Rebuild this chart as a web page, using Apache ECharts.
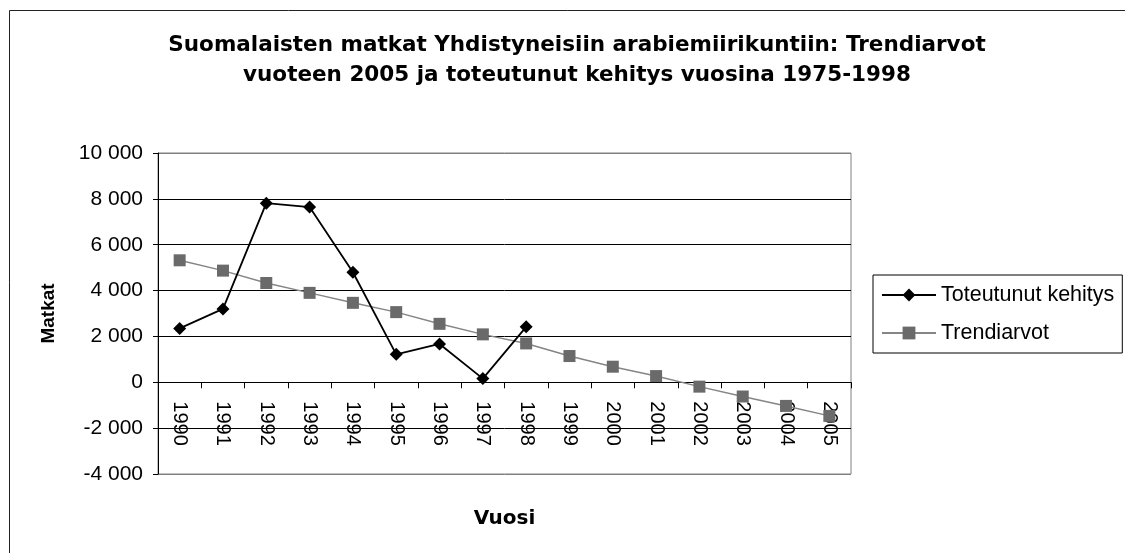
<!DOCTYPE html>
<html>
<head>
<meta charset="utf-8">
<title>Suomalaisten matkat</title>
<script src="https://cdn.jsdelivr.net/npm/echarts@6/dist/echarts.min.js"></script>
<style>
  html, body { margin: 0; padding: 0; background: #fff; }
  #chart { width: 1125px; height: 553px; }
</style>
</head>
<body>
<div id="chart"></div>
<script>
var vuodet = ["1990", "1991", "1992", "1993", "1994", "1995", "1996", "1997",
  "1998", "1999", "2000", "2001", "2002", "2003", "2004", "2005"];
// toteutunut kehitys 1990-1998
var toteutunut = [2350, 3200, 7810, 7640, 4800, 1220, 1670, 160, 2420];
// trendiarvot 1990-2005
var trendi = [5320, 4870, 4330, 3900, 3465, 3060, 2550, 2090, 1695, 1145,
  680, 270, -190, -620, -1030, -1465];
var yMin = -4000;
var yMax = 10000;
var yStep = 2000;

var font = "Liberation Sans, Arial, sans-serif";
var wideBold = "DejaVu Sans, Liberation Sans, sans-serif";

// grid box (px)
var gridTop = 153;
var gridBottom = 79;
var plotH = 553 - gridTop - gridBottom;
// x axis sits on the zero line; move it up from the bottom edge
var zeroOffset = -(plotH * (0 - yMin)) / (yMax - yMin);

function fmtNum(v) {
  var s = String(Math.abs(v)).replace(/\B(?=(\d{3})+(?!\d))/g, " ");
  return (v < 0 ? "-" : "") + s;
}

var chart = echarts.init(document.getElementById("chart"));

var option = {
  animation: false,
  backgroundColor: "#fff",
  textStyle: { fontFamily: font },
  graphic: [
    {
      type: "rect",
      shape: { x: 9.5, y: 10.5, width: 1200, height: 600 },
      style: { fill: "none", stroke: "#222", lineWidth: 1 },
      silent: true,
      z: -1,
    },
  ],
  title: {
    text: "Suomalaisten matkat Yhdistyneisiin arabiemiirikuntiin: Trendiarvot\nvuoteen 2005 ja toteutunut kehitys vuosina 1975-1998",
    left: 572,
    top: 25,
    textAlign: "center",
    textStyle: {
      fontFamily: wideBold,
      fontSize: 21.5,
      fontWeight: "bold",
      color: "#000",
      lineHeight: 30,
    },
  },
  legend: {
    orient: "vertical",
    left: 873,
    top: 275,
    padding: [9, 8, 9, 8],
    itemWidth: 54,
    itemHeight: 16,
    itemGap: 16,
    borderColor: "#000",
    borderWidth: 1,
    backgroundColor: "#fff",
    textStyle: { fontFamily: font, fontSize: 21.5, color: "#000" },
    data: ["Toteutunut kehitys", "Trendiarvot"],
  },
  grid: {
    left: 158,
    right: 274,
    top: gridTop,
    bottom: gridBottom,
    outerBoundsMode: "none",
    show: true,
    borderColor: "#808080",
    borderWidth: 1,
    backgroundColor: "#fff",
  },
  xAxis: {
    type: "category",
    data: vuodet,
    boundaryGap: true,
    offset: zeroOffset,
    name: "Vuosi",
    nameLocation: "middle",
    nameGap: 127,
    nameTextStyle: { fontFamily: wideBold, fontSize: 20, fontWeight: "bold", color: "#000" },
    axisLine: { onZero: false, lineStyle: { color: "#000", width: 1 } },
    axisTick: { show: true, interval: 0, length: 6, lineStyle: { color: "#000" } },
    axisLabel: {
      interval: 0,
      rotate: -90,
      margin: 19,
      fontFamily: font,
      fontSize: 20,
      color: "#000",
    },
    splitLine: { show: false },
  },
  yAxis: {
    type: "value",
    min: yMin,
    max: yMax,
    interval: yStep,
    name: "Matkat",
    nameLocation: "middle",
    nameRotate: 90,
    nameGap: 100,
    nameTextStyle: { fontFamily: font, fontSize: 19, fontWeight: "bold", color: "#000" },
    axisLine: { show: true, onZero: false, lineStyle: { color: "#000", width: 1 } },
    axisTick: { show: true, length: 5, lineStyle: { color: "#000" } },
    axisLabel: {
      margin: 15,
      fontFamily: font,
      fontSize: 21,
      color: "#000",
      formatter: fmtNum,
    },
    splitLine: {
      show: true,
      lineStyle: {
        color: ["#808080", "#000", "#000", "#000", "#000", "#000", "#000", "#808080"],
        width: 1,
      },
    },
  },
  series: [
    {
      name: "Trendiarvot",
      type: "line",
      data: trendi,
      symbol: "rect",
      symbolSize: 12,
      lineStyle: { color: "#858585", width: 1.5 },
      itemStyle: { color: "#6a6a6a" },
      z: 2,
    },
    {
      name: "Toteutunut kehitys",
      type: "line",
      data: toteutunut,
      symbol: "diamond",
      symbolSize: 13,
      lineStyle: { color: "#000", width: 1.8 },
      itemStyle: { color: "#000" },
      z: 3,
    },
  ],
};

option && chart.setOption(option);
</script>
</body>
</html>
